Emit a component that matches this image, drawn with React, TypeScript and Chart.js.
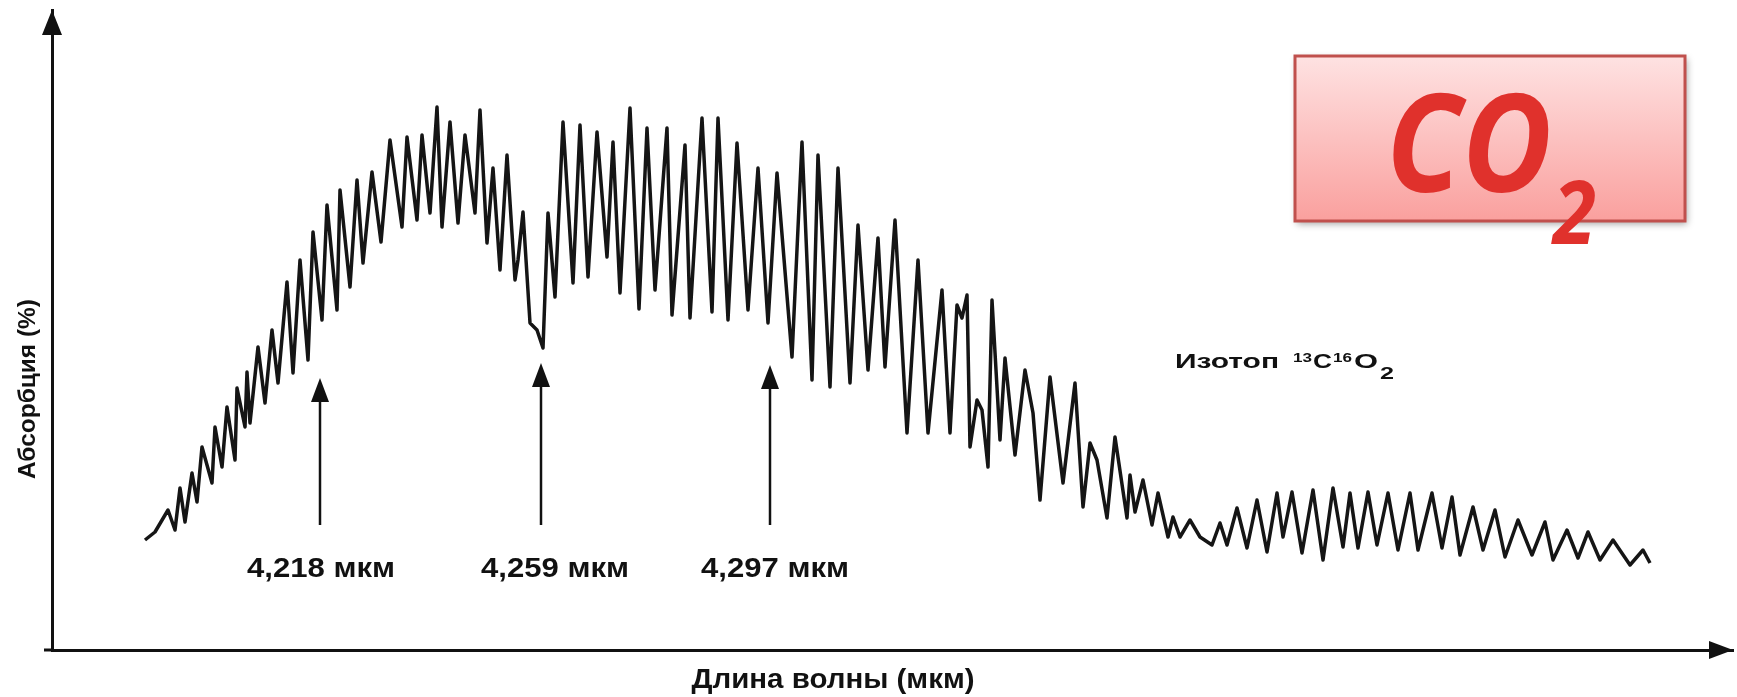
import React, { useEffect, useRef } from "react";
import { Chart, registerables } from "chart.js";

Chart.register(...registerables);

const waveX: number[] = [
  93, 103, 116, 123, 128, 133, 140, 145, 150, 160, 163, 170, 175, 183, 185, 193, 195, 198, 206, 213,
  220, 226, 235, 241, 248, 256, 261, 270, 275, 285, 288, 298, 305, 311, 320, 329,
  338, 350, 355, 365, 370, 378, 385, 390, 398, 406, 413, 423, 428, 435, 441, 448, 455, 463, 466, 471,
  478, 485, 491, 496, 503, 511, 521, 528, 536, 545, 555, 561, 568, 578, 587,
  595, 603, 615, 620, 633, 638, 650, 660, 666, 676, 685, 696, 706, 716, 725, 740, 750, 760, 766, 778,
  786, 798, 806, 816, 826,
  833, 843, 855, 866, 876, 890, 898, 905, 910, 915, 918, 925, 930, 936, 940, 948, 953, 963, 973, 981,
  988, 998, 1011, 1023, 1031, 1038, 1045, 1055, 1063, 1075, 1078,
  1083, 1091, 1100, 1106, 1116, 1121, 1128, 1138, 1148, 1160, 1168, 1175, 1185, 1195, 1205, 1215, 1225,
  1231, 1240, 1250, 1261, 1271, 1281, 1291, 1298, 1306, 1316, 1325, 1336,
  1346, 1358, 1366, 1380, 1390, 1400, 1408, 1421, 1431, 1443, 1453, 1466, 1480, 1493, 1501, 1515, 1526,
  1536, 1548, 1561, 1578, 1591, 1598,
];

const absorb: number[] = [
  110, 118, 140, 120, 162, 128, 177, 148, 203, 167, 223, 183, 243, 190, 262, 223, 278, 227, 303, 247,
  320, 267, 368, 277, 390, 290, 418, 330, 445, 340, 460, 363, 470, 387, 478, 408,
  510, 423, 513, 430, 515, 437, 543, 423, 528, 427, 515, 437, 540, 407, 482, 380, 495, 370, 390, 438,
  327, 320, 302, 437, 353, 528, 367, 525, 373, 518, 393, 508, 357, 542, 341,
  522, 360, 522, 335, 505, 332, 532, 338, 532, 330, 507, 340, 482, 327, 477, 293, 508, 270, 495, 263,
  482, 267, 425, 280, 412,
  283, 430, 217, 390, 217, 360, 217, 345, 332, 355, 203, 250, 240, 183, 350, 210, 292, 195, 280, 237,
  150, 273, 167, 267, 143, 207, 190, 132, 213, 132, 175,
  138, 170, 125, 157, 113, 133, 113, 130, 113, 105, 127, 105, 142, 102, 150, 98, 157,
  113, 158, 97, 160, 90, 162, 103, 157, 102, 158, 105, 157,
  100, 157, 100, 157, 102, 153, 95, 143, 100, 140, 93, 130, 95, 128, 90, 120, 92,
  118, 90, 110, 85, 100, 87,
];

// Marked wavelengths (arrows)
const markX: number[] = [268, 489, 718];
const markTop: number[] = [272, 287, 285];
const markBase = 125;
const markLabels: string[] = ["4,218 мкм", "4,259 мкм", "4,297 мкм"];
const markLabelX: number[] = [269, 503, 723];
const markLabelY = 73;

const xRange = [0, 1681];
const yRange = [0, 640];

const yTitle = "Абсорбция (%)";
const xTitle = "Длина волны (мкм)";

function fitText(
  ctx: CanvasRenderingContext2D,
  text: string,
  x: number,
  y: number,
  width: number,
  font: string,
  align: CanvasTextAlign = "center"
) {
  ctx.save();
  ctx.font = font;
  const w = ctx.measureText(text).width || 1;
  ctx.translate(x, y);
  ctx.scale(width / w, 1);
  ctx.textAlign = align;
  ctx.textBaseline = "alphabetic";
  ctx.fillText(text, 0, 0);
  ctx.restore();
}

const overlay = {
  id: "overlay",
  afterDraw(chart: any) {
    const ctx: CanvasRenderingContext2D = chart.ctx;
    const xs = chart.scales.x;
    const ys = chart.scales.y;
    const area = chart.chartArea;
    ctx.save();
    ctx.fillStyle = "#111";
    ctx.strokeStyle = "#111";

    // axis arrowheads
    ctx.beginPath();
    ctx.moveTo(area.left, area.top);
    ctx.lineTo(area.left - 10, area.top + 25);
    ctx.lineTo(area.left + 10, area.top + 25);
    ctx.closePath();
    ctx.fill();
    ctx.beginPath();
    ctx.moveTo(area.right, area.bottom);
    ctx.lineTo(area.right - 24, area.bottom - 9);
    ctx.lineTo(area.right - 24, area.bottom + 9);
    ctx.closePath();
    ctx.fill();
    ctx.lineWidth = 3;
    ctx.beginPath();
    ctx.moveTo(area.left - 8, area.bottom);
    ctx.lineTo(area.left, area.bottom);
    ctx.stroke();

    // marker arrows
    ctx.lineWidth = 2.5;
    markX.forEach((mx, i) => {
      const px = xs.getPixelForValue(mx);
      const top = ys.getPixelForValue(markTop[i]);
      const base = ys.getPixelForValue(markBase);
      ctx.beginPath();
      ctx.moveTo(px, base);
      ctx.lineTo(px, top + 20);
      ctx.stroke();
      ctx.beginPath();
      ctx.moveTo(px, top);
      ctx.lineTo(px - 9, top + 24);
      ctx.lineTo(px + 9, top + 24);
      ctx.closePath();
      ctx.fill();
      fitText(
        ctx,
        markLabels[i],
        xs.getPixelForValue(markLabelX[i]),
        ys.getPixelForValue(markLabelY),
        148,
        "bold 27px 'Liberation Sans', Arial, sans-serif"
      );
    });

    // isotope label
    const ix = xs.getPixelForValue(1123);
    const iy = ys.getPixelForValue(282);
    const f = "'Liberation Sans', Arial, sans-serif";
    fitText(ctx, "Изотоп", ix, iy, 104, `bold 20px ${f}`, "left");
    fitText(ctx, "13", ix + 118, iy - 6, 19, `bold 13px ${f}`, "left");
    fitText(ctx, "C", ix + 138, iy, 19, `bold 20px ${f}`, "left");
    fitText(ctx, "16", ix + 158, iy - 6, 19, `bold 13px ${f}`, "left");
    fitText(ctx, "O", ix + 179, iy, 24, `bold 20px ${f}`, "left");
    fitText(ctx, "2", ix + 205, iy + 11, 14, `bold 16px ${f}`, "left");

    // axis titles
    ctx.save();
    ctx.translate(35, (area.top + area.bottom) / 2 + 59);
    ctx.rotate(-Math.PI / 2);
    fitText(ctx, yTitle, 0, 0, 180, `bold 24px ${f}`);
    ctx.restore();
    fitText(ctx, xTitle, 833, 688, 283, `bold 27px ${f}`);

    // CO2 box
    const bx = 1295, by = 56, bw = 390, bh = 165;
    ctx.save();
    ctx.shadowColor = "rgba(0,0,0,0.35)";
    ctx.shadowBlur = 7;
    ctx.shadowOffsetX = 2;
    ctx.shadowOffsetY = 3;
    const g = ctx.createLinearGradient(0, by, 0, by + bh);
    g.addColorStop(0, "rgb(254,226,226)");
    g.addColorStop(1, "rgb(250,160,158)");
    ctx.fillStyle = g;
    ctx.fillRect(bx, by, bw, bh);
    ctx.restore();
    ctx.strokeStyle = "rgb(192,80,77)";
    ctx.lineWidth = 3;
    ctx.strokeRect(bx, by, bw, bh);
    ctx.fillStyle = "rgb(224,49,44)";
    fitText(ctx, "CO", 1386, 192, 166, "italic bold 136px 'Open Sans', Lato, sans-serif", "left");
    fitText(ctx, "2", 1553, 244, 43, "italic bold 88px 'Open Sans', Lato, sans-serif", "left");

    ctx.restore();
  },
};

export default function App() {
  const ref = useRef<HTMLCanvasElement | null>(null);
  useEffect(() => {
    document.body.style.margin = "0";
    const points = waveX.map((x, i) => ({ x, y: absorb[i] }));
    const chart = new Chart(ref.current as HTMLCanvasElement, {
      type: "line",
      data: {
        datasets: [
          {
            data: points,
            borderColor: "#151515",
            borderWidth: 3.5,
            pointRadius: 0,
            tension: 0,
            fill: false,
            borderJoinStyle: "round",
          } as any,
        ],
      },
      options: {
        animation: false,
        responsive: false,
        devicePixelRatio: 1,
        layout: { padding: { left: 52, right: 4, top: 10, bottom: 47 } },
        plugins: { legend: { display: false }, tooltip: { enabled: false } },
        scales: {
          x: {
            type: "linear",
            min: xRange[0],
            max: xRange[1],
            grid: { display: false, drawTicks: false },
            ticks: { display: false },
            border: { display: true, color: "#111", width: 3 },
          },
          y: {
            type: "linear",
            min: yRange[0],
            max: yRange[1],
            grid: { display: false, drawTicks: false },
            ticks: { display: false },
            border: { display: true, color: "#111", width: 3 },
          },
        },
      },
      plugins: [overlay],
    });
    return () => chart.destroy();
  }, []);
  return (
    <div style={{ width: 1737, height: 697, background: "#fff" }}>
      <canvas ref={ref} width={1737} height={697} style={{ display: "block" }} />
    </div>
  );
}
